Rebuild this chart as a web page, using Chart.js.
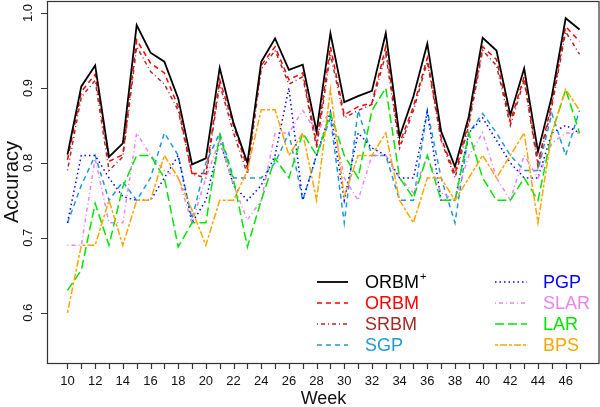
<!DOCTYPE html>
<html>
<head>
<meta charset="utf-8">
<script src="https://cdn.jsdelivr.net/npm/chart.js@4.4.1/dist/chart.umd.min.js"></script>
<style>
  html, body { margin: 0; padding: 0; background: #fff; }
  #wrap { width: 600px; height: 407px; }
</style>
</head>
<body>
<div id="wrap"><canvas id="accChart" width="600" height="407"></canvas></div>
<script>
const weeks = [10,11,12,13,14,15,16,17,18,19,20,21,22,23,24,25,26,27,28,29,30,31,32,33,34,35,36,37,38,39,40,41,42,43,44,45,46,47];

const orbmPlus = [0.811,0.902,0.930,0.808,0.826,0.984,0.947,0.935,0.886,0.798,0.806,0.927,0.853,
  0.800,0.935,0.966,0.924,0.931,0.842,0.973,0.881,0.889,0.896,0.973,0.835,
  0.889,0.959,0.842,0.795,0.862,0.967,0.950,0.864,0.926,0.815,0.889,0.993,0.978];
const orbm = [0.804,0.895,0.918,0.802,0.811,0.964,0.933,0.920,0.875,0.786,0.786,0.911,0.850,
  0.793,0.930,0.955,0.911,0.920,0.826,0.955,0.864,0.875,0.880,0.955,0.826,
  0.875,0.940,0.833,0.785,0.855,0.955,0.938,0.855,0.915,0.800,0.880,0.982,0.962];
const srbm = [0.790,0.888,0.910,0.790,0.808,0.955,0.922,0.905,0.870,0.785,0.780,0.905,0.840,
  0.785,0.925,0.950,0.905,0.915,0.820,0.945,0.860,0.870,0.878,0.945,0.820,
  0.870,0.935,0.830,0.780,0.850,0.950,0.930,0.850,0.910,0.795,0.875,0.975,0.945];
const sgp = [0.720,0.770,0.810,0.750,0.775,0.750,0.780,0.840,0.810,0.725,0.800,0.840,0.780,
  0.780,0.780,0.800,0.840,0.750,0.810,0.860,0.720,0.870,0.810,0.810,0.750,
  0.750,0.870,0.780,0.720,0.840,0.866,0.840,0.810,0.790,0.790,0.866,0.810,0.870];
const pgp = [0.720,0.810,0.810,0.780,0.755,0.750,0.750,0.780,0.810,0.720,0.750,0.830,0.770,
  0.750,0.770,0.810,0.900,0.750,0.810,0.868,0.750,0.840,0.820,0.810,0.780,
  0.780,0.868,0.750,0.750,0.840,0.860,0.830,0.800,0.780,0.780,0.840,0.850,0.840];
const slar = [0.690,0.690,0.806,0.720,0.720,0.840,0.810,0.790,0.780,0.720,0.780,0.830,0.770,
  0.724,0.750,0.840,0.840,0.870,0.840,0.870,0.780,0.750,0.810,0.810,0.780,
  0.760,0.810,0.760,0.750,0.810,0.840,0.780,0.750,0.810,0.780,0.826,0.840,0.840];
const lar = [0.630,0.657,0.746,0.690,0.768,0.810,0.810,0.780,0.688,0.720,0.720,0.837,0.777,
  0.688,0.750,0.806,0.780,0.840,0.810,0.866,0.810,0.780,0.870,0.900,0.780,
  0.753,0.810,0.750,0.750,0.840,0.780,0.750,0.750,0.780,0.750,0.840,0.898,0.840];
const bps = [0.600,0.690,0.690,0.750,0.690,0.750,0.750,0.810,0.780,0.737,0.690,0.750,0.750,
  0.790,0.871,0.871,0.810,0.840,0.750,0.898,0.755,0.810,0.810,0.840,0.750,
  0.720,0.780,0.780,0.750,0.780,0.810,0.780,0.810,0.840,0.720,0.840,0.898,0.870];

const yTicks = [0.6, 0.7, 0.8, 0.9, 1.0];
const xTickLabels = [10,12,14,16,18,20,22,24,26,28,30,32,34,36,38,40,42,44,46];

// name, values, colour, dash, width, superscript plus
const series = [
  ["ORBM", orbmPlus, "#000000", [], 1.8, true],
  ["ORBM", orbm, "#ff0000", [5, 4], 1.5],
  ["SRBM", srbm, "#a52a2a", [1, 3, 4, 3], 1.5],
  ["SGP", sgp, "#1e9bd7", [5, 4], 1.5],
  ["PGP", pgp, "#0000ff", [1.5, 3], 1.5],
  ["SLAR", slar, "#ee82ee", [1, 3, 4, 3], 1.5],
  ["LAR", lar, "#00e600", [9, 4], 1.5],
  ["BPS", bps, "#ffa500", [3, 2, 7, 2], 1.5],
];

const datasets = series.map((s, i) => ({
  label: s[0] + (s[5] ? "+" : ""),
  data: weeks.map((w, j) => ({ x: w, y: s[1][j] })),
  borderColor: s[2],
  borderDash: s[3],
  borderWidth: s[4],
  pointRadius: 0,
  tension: 0,
  fill: false,
  order: i === 0 ? 0 : 9 - i,
}));

const font = '"Liberation Sans", Arial, sans-serif';

const frame = {
  id: "frame",
  beforeDraw(chart) {
    const c = chart.ctx;
    c.save();
    c.fillStyle = "#fff";
    c.fillRect(0, 0, chart.width, chart.height);
    c.restore();
  },
  afterDraw(chart) {
    const c = chart.ctx;
    const a = chart.chartArea;
    const xs = chart.scales.x, ys = chart.scales.y;
    c.save();
    c.strokeStyle = "#333";
    c.lineWidth = 1.2;
    c.strokeRect(a.left + 0.5, a.top + 0.5, a.right - a.left - 1.5, a.bottom - a.top);

    // x ticks
    c.fillStyle = "#111";
    c.font = "13px " + font;
    c.textAlign = "center";
    c.textBaseline = "middle";
    c.beginPath();
    weeks.forEach(w => {
      const px = Math.round(xs.getPixelForValue(w)) + 0.5;
      c.moveTo(px, a.bottom);
      c.lineTo(px, a.bottom + 6);
    });
    c.stroke();
    xTickLabels.forEach(w => c.fillText(String(w), xs.getPixelForValue(w), a.bottom + 18));

    // y ticks
    c.beginPath();
    yTicks.forEach(v => {
      const py = Math.round(ys.getPixelForValue(v)) + 0.5;
      c.moveTo(a.left, py);
      c.lineTo(a.left - 6, py);
    });
    c.stroke();
    yTicks.forEach(v => {
      c.save();
      c.translate(a.left - 19, ys.getPixelForValue(v));
      c.rotate(-Math.PI / 2);
      c.fillText(v.toFixed(1), 0, 0);
      c.restore();
    });

    // axis titles
    c.font = "18px " + font;
    c.fillText("Week", (a.left + a.right) / 2, 399);
    c.save();
    c.font = "20px " + font;
    c.translate(12, (a.top + a.bottom) / 2);
    c.rotate(-Math.PI / 2);
    c.fillText("Accuracy", 0, 0);
    c.restore();

    // legend
    const cols = [[317, 348, 365], [495, 527, 543]];
    const rowY = [282, 303, 324, 345];
    c.textAlign = "left";
    series.forEach((s, i) => {
      const col = cols[Math.floor(i / 4)];
      const y = rowY[i % 4];
      c.strokeStyle = s[2];
      c.lineWidth = s[4];
      c.setLineDash(s[3]);
      c.beginPath();
      c.moveTo(col[0], y);
      c.lineTo(col[1], y);
      c.stroke();
      c.setLineDash([]);
      c.fillStyle = s[2];
      c.font = "18px " + font;
      c.fillText(s[0], col[2], y + 1);
      if (s[5]) {
        const w = c.measureText(s[0]).width;
        c.font = "11px " + font;
        c.fillText("+", col[2] + w + 1, y - 5);
      }
    });
    c.restore();
  }
};

new Chart(document.getElementById("accChart"), {
  type: "line",
  data: { datasets },
  options: {
    responsive: false,
    animation: false,
    layout: { padding: { left: 47, right: 0, top: 1, bottom: 44 } },
    plugins: { legend: { display: false }, tooltip: { enabled: false } },
    scales: {
      x: { type: "linear", min: 8.52, max: 48.48, display: false },
      y: { min: 0.533, max: 1.016, display: false },
    },
  },
  plugins: [frame],
});
</script>
</body>
</html>
